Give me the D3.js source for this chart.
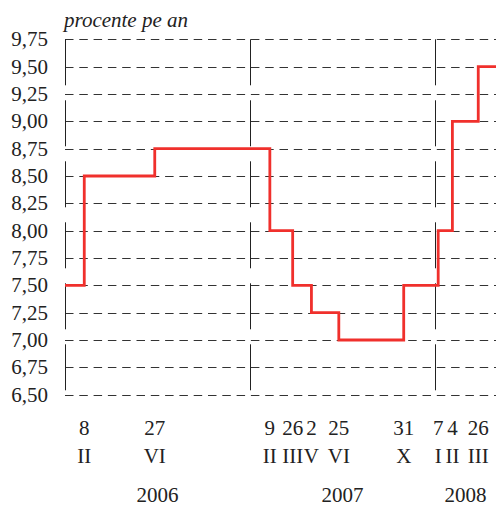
<!DOCTYPE html>
<html>
<head>
<meta charset="utf-8">
<script src="https://cdn.jsdelivr.net/npm/d3@7"></script>
<style>
  body { margin: 0; background: #fff; }
</style>
</head>
<body>
<svg id="chart" width="496" height="507"></svg>
<script>
// policy rate steps (date the new level starts, level in % per year)
const stepDates = ["2006-01-01", "2006-02-08", "2006-06-27", "2007-02-09", "2007-03-26",
                   "2007-05-02", "2007-06-25", "2007-10-31", "2008-01-07", "2008-02-04", "2008-03-26"];
const rates = [7.50, 8.50, 8.75, 8.00, 7.50, 7.25, 7.00, 7.50, 8.00, 9.00, 9.50];

// labels under the chart
const labelDates = stepDates.slice(1);
const dayLabels = ["8", "27", "9", "26", "2", "25", "31", "7", "4", "26"];
const monthLabels = ["II", "VI", "II", "III", "V", "VI", "X", "I", "II", "III"];
const years = [2006, 2007, 2008];

const yTicks = [6.50, 6.75, 7.00, 7.25, 7.50, 7.75, 8.00, 8.25, 8.50, 8.75, 9.00, 9.25, 9.50, 9.75];

const FONT = "'Liberation Serif', 'Times New Roman', serif";

const parse = d3.timeParse("%Y-%m-%d");
const start = parse("2006-01-01");
const end = parse("2008-04-30");

const svg = d3.select("#chart");

const x = d3.scaleTime()
    .domain([start, end])
    .range([65, 496]);

const y = d3.scaleLinear()
    .domain([6.5, 9.75])
    .range([394.7, 39.3]);

const fmt = v => d3.format(".2f")(v).replace(".", ",");

// horizontal dashed grid
svg.append("g")
    .selectAll("line")
    .data(yTicks)
    .enter().append("line")
    .attr("x1", x(start))
    .attr("x2", x(end))
    .attr("y1", d => Math.round(y(d)) + 0.5)
    .attr("y2", d => Math.round(y(d)) + 0.5)
    .attr("stroke", "#333")
    .attr("stroke-width", 1)
    .attr("stroke-dasharray", "8.5,5.8");

// y tick labels
svg.append("g")
    .selectAll("text")
    .data(yTicks)
    .enter().append("text")
    .attr("x", 48)
    .attr("y", d => y(d) + 7)
    .attr("text-anchor", "end")
    .attr("font-family", FONT)
    .attr("font-size", 21)
    .attr("fill", "#222")
    .text(fmt);

// left axis + year separators (long dashes)
const vlines = [start, parse("2007-01-01"), parse("2008-01-01")];
svg.append("g")
    .selectAll("line")
    .data(vlines)
    .enter().append("line")
    .attr("x1", d => Math.round(x(d)) + 0.5)
    .attr("x2", d => Math.round(x(d)) + 0.5)
    .attr("y1", y(9.75))
    .attr("y2", y(6.5))
    .attr("stroke", "#222")
    .attr("stroke-width", 1)
    .attr("stroke-dasharray", "46,15");

// step line
const pts = stepDates.map((d, i) => ({ date: parse(d), v: rates[i] }));
pts.push({ date: end, v: rates[rates.length - 1] });

const line = d3.line()
    .x(d => x(d.date))
    .y(d => y(d.v))
    .curve(d3.curveStepAfter);

svg.append("path")
    .datum(pts)
    .attr("d", line)
    .attr("fill", "none")
    .attr("stroke", "#f0302c")
    .attr("stroke-width", 2.8);

// title
svg.append("text")
    .attr("x", 64)
    .attr("y", 26.5)
    .attr("font-family", FONT)
    .attr("font-size", 21)
    .attr("font-style", "italic")
    .attr("fill", "#222")
    .text("procente pe an");

// day / month labels
const lab = svg.append("g")
    .attr("font-family", FONT)
    .attr("font-size", 21)
    .attr("fill", "#222")
    .attr("text-anchor", "middle");

lab.selectAll(".day")
    .data(labelDates)
    .enter().append("text")
    .attr("class", "day")
    .attr("x", d => x(parse(d)))
    .attr("y", 435)
    .text((d, i) => dayLabels[i]);

lab.selectAll(".month")
    .data(labelDates)
    .enter().append("text")
    .attr("class", "month")
    .attr("x", d => x(parse(d)))
    .attr("y", 463)
    .text((d, i) => monthLabels[i]);

// year labels, centred on the visible part of each year
lab.selectAll(".year")
    .data(years)
    .enter().append("text")
    .attr("class", "year")
    .attr("x", d => {
        const a = d3.max([start, new Date(d, 0, 1)]);
        const b = d3.min([end, new Date(d + 1, 0, 1)]);
        return (x(a) + x(b)) / 2;
    })
    .attr("y", 502)
    .text(d => d);
</script>
</body>
</html>
